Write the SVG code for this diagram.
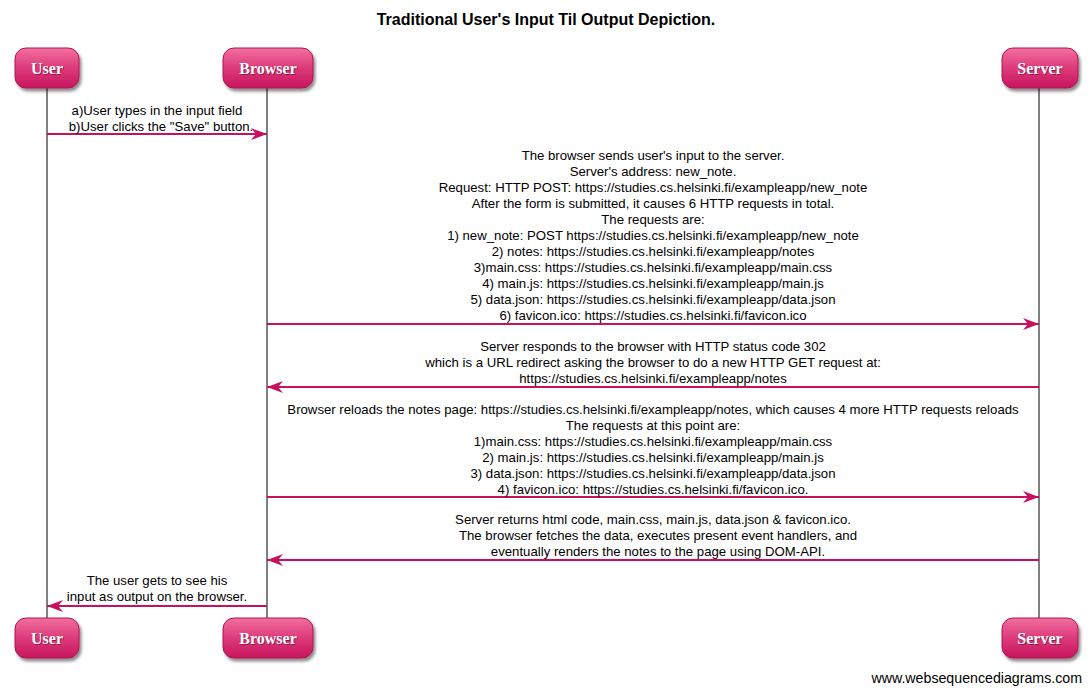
<svg xmlns="http://www.w3.org/2000/svg" width="1091" height="692" viewBox="0 0 1091 692">
<style>
.msg{font-family:"Liberation Sans",Arial,sans-serif;font-size:13.2px;fill:#000;text-anchor:middle}
.title{font-family:"Liberation Sans",Arial,sans-serif;font-size:16px;font-weight:bold;fill:#000;text-anchor:middle}
.foot{font-family:"Liberation Sans",Arial,sans-serif;font-size:14.2px;fill:#000;text-anchor:end}
.box{fill:url(#g);stroke:#b0124f;stroke-width:1;filter:url(#sh)}
.lbl{font-family:"Liberation Serif","Times New Roman",serif;font-size:16px;font-weight:bold;fill:#fff;text-anchor:middle}
.lblsh{font-family:"Liberation Serif","Times New Roman",serif;font-size:16px;font-weight:bold;fill:#5a0a28;text-anchor:middle;opacity:0.6}
.life{stroke:#000;stroke-width:1}
.arr{stroke:#c8105f;stroke-width:2;fill:none}
</style>
<defs>
<linearGradient id="g" x1="0" y1="0" x2="0" y2="1">
<stop offset="0" stop-color="#f2709f"/>
<stop offset="0.5" stop-color="#dc3a7a"/>
<stop offset="1" stop-color="#c8155e"/>
</linearGradient>
<filter id="sh" x="-20%" y="-20%" width="150%" height="160%">
<feGaussianBlur in="SourceAlpha" stdDeviation="1.5"/>
<feOffset dx="2" dy="3" result="o"/>
<feComponentTransfer><feFuncA type="linear" slope="0.45"/></feComponentTransfer>
<feMerge><feMergeNode/><feMergeNode in="SourceGraphic"/></feMerge>
</filter>
<marker id="ah" viewBox="0 0 16 12" refX="16" refY="6" markerWidth="16" markerHeight="12" markerUnits="userSpaceOnUse" orient="auto">
<path d="M0,0 L16,6 L0,12 L5,6 Z" fill="#c8105f"/>
</marker>
</defs>
<rect width="1091" height="692" fill="#fff"/>
<text class="title" x="546" y="25">Traditional User's Input Til Output Depiction.</text>

<g id="lifelines">
<line class="life" x1="47" y1="88" x2="47" y2="618"/>
<line class="life" x1="267" y1="88" x2="267" y2="618"/>
<line class="life" x1="1039" y1="88" x2="1039" y2="618"/>
</g>

<g id="connectors">
<line class="arr" x1="47" y1="134" x2="267" y2="134" marker-end="url(#ah)"/>
<line class="arr" x1="267" y1="324" x2="1039" y2="324" marker-end="url(#ah)"/>
<line class="arr" x1="1039" y1="387" x2="267" y2="387" marker-end="url(#ah)"/>
<line class="arr" x1="267" y1="497" x2="1039" y2="497" marker-end="url(#ah)"/>
<line class="arr" x1="1039" y1="560" x2="267" y2="560" marker-end="url(#ah)"/>
<line class="arr" x1="267" y1="606" x2="47" y2="606" marker-end="url(#ah)"/>
</g>

<g id="labels">
<text class="msg" x="157" y="115">a)User types in the input field</text>
<text class="msg" x="161" y="131">b)User clicks the "Save" button.</text>

<text class="msg" x="653" y="160">The browser sends user's input to the server.</text>
<text class="msg" x="653" y="176">Server's address: new_note.</text>
<text class="msg" x="653" y="192">Request: HTTP POST: https://studies.cs.helsinki.fi/exampleapp/new_note</text>
<text class="msg" x="653" y="208">After the form is submitted, it causes 6 HTTP requests in total.</text>
<text class="msg" x="653" y="224">The requests are:</text>
<text class="msg" x="653" y="240">1) new_note: POST https://studies.cs.helsinki.fi/exampleapp/new_note</text>
<text class="msg" x="653" y="256">2) notes: https://studies.cs.helsinki.fi/exampleapp/notes</text>
<text class="msg" x="653" y="272">3)main.css: https://studies.cs.helsinki.fi/exampleapp/main.css</text>
<text class="msg" x="653" y="288">4) main.js: https://studies.cs.helsinki.fi/exampleapp/main.js</text>
<text class="msg" x="653" y="304">5) data.json: https://studies.cs.helsinki.fi/exampleapp/data.json</text>
<text class="msg" x="653" y="320">6) favicon.ico: https://studies.cs.helsinki.fi/favicon.ico</text>

<text class="msg" x="653" y="351">Server responds to the browser with HTTP status code 302</text>
<text class="msg" x="653" y="367">which is a URL redirect asking the browser to do a new HTTP GET request at:</text>
<text class="msg" x="653" y="383">https://studies.cs.helsinki.fi/exampleapp/notes</text>

<text class="msg" x="653" y="414">Browser reloads the notes page: https://studies.cs.helsinki.fi/exampleapp/notes, which causes 4 more HTTP requests reloads</text>
<text class="msg" x="653" y="430">The requests at this point are:</text>
<text class="msg" x="653" y="446">1)main.css: https://studies.cs.helsinki.fi/exampleapp/main.css</text>
<text class="msg" x="653" y="462">2) main.js: https://studies.cs.helsinki.fi/exampleapp/main.js</text>
<text class="msg" x="653" y="478">3) data.json: https://studies.cs.helsinki.fi/exampleapp/data.json</text>
<text class="msg" x="653" y="494">4) favicon.ico: https://studies.cs.helsinki.fi/favicon.ico.</text>

<text class="msg" x="653" y="524">Server returns html code, main.css, main.js, data.json &amp; favicon.ico.</text>
<text class="msg" x="658" y="540">The browser fetches the data, executes present event handlers, and</text>
<text class="msg" x="658" y="556">eventually renders the notes to the page using DOM-API.</text>

<text class="msg" x="157" y="585">The user gets to see his</text>
<text class="msg" x="157" y="601">input as output on the browser.</text>
</g>

<g id="user-top">
<rect class="box" x="15" y="48" width="64" height="40" rx="11"/>
<text class="lblsh" x="48" y="75">User</text>
<text class="lbl" x="47" y="74">User</text>
</g>
<g id="browser-top">
<rect class="box" x="223" y="48" width="90" height="40" rx="11"/>
<text class="lblsh" x="269" y="75">Browser</text>
<text class="lbl" x="268" y="74">Browser</text>
</g>
<g id="server-top">
<rect class="box" x="1002" y="48" width="76" height="40" rx="11"/>
<text class="lblsh" x="1041" y="75">Server</text>
<text class="lbl" x="1040" y="74">Server</text>
</g>
<g id="user-bottom">
<rect class="box" x="15" y="618" width="64" height="40" rx="11"/>
<text class="lblsh" x="48" y="645">User</text>
<text class="lbl" x="47" y="644">User</text>
</g>
<g id="browser-bottom">
<rect class="box" x="223" y="618" width="90" height="40" rx="11"/>
<text class="lblsh" x="269" y="645">Browser</text>
<text class="lbl" x="268" y="644">Browser</text>
</g>
<g id="server-bottom">
<rect class="box" x="1002" y="618" width="76" height="40" rx="11"/>
<text class="lblsh" x="1041" y="645">Server</text>
<text class="lbl" x="1040" y="644">Server</text>
</g>

<text class="foot" x="1082" y="683">www.websequencediagrams.com</text>
</svg>
